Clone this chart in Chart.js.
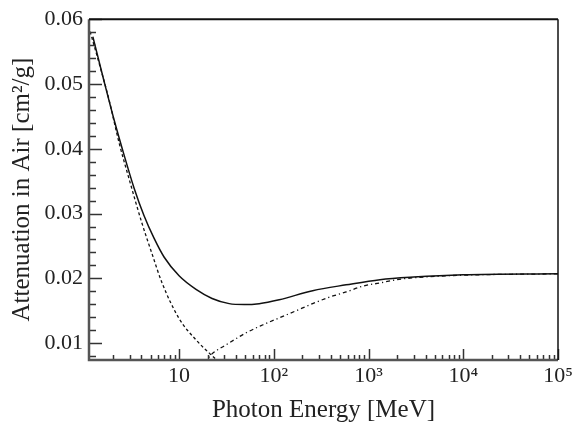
<!DOCTYPE html>
<html>
<head>
<meta charset="utf-8">
<script src="https://cdn.jsdelivr.net/npm/chart.js@4.4.1/dist/chart.umd.min.js"></script>
<style>
  body { margin: 0; background: #fff; }
  canvas { display: block; }
</style>
</head>
<body>
<canvas id="attGraph" width="582" height="430"></canvas>
<script>
// valeurs
const energyTotal = [1.23, 1.61, 2.05, 2.62, 3.34, 4.26, 5.44, 6.94, 10, 15.1, 22.3, 33.8, 48.7, 70, 114, 257, 580, 1320, 3000, 10000, 100000];
const attTotal = [0.0573, 0.0505, 0.0446, 0.0391, 0.0340, 0.0297, 0.0262, 0.0233, 0.0204, 0.0183, 0.0169, 0.0161, 0.01596, 0.0161, 0.0167, 0.0181, 0.0190, 0.0198, 0.0202, 0.02055, 0.0207];

const energyCompton = [1.11, 1.42, 1.82, 2.32, 2.96, 4.06, 5.18, 6.61, 10, 15.1, 20.7, 25.9];
const attCompton = [0.0589, 0.0534, 0.0476, 0.0410, 0.0354, 0.0285, 0.0238, 0.0193, 0.0138, 0.0105, 0.0085, 0.0072];

const energyPair = [18, 20, 22.5, 31, 40, 51, 76, 114, 172, 257, 386, 580, 871, 1320, 2000, 3000, 5000, 10000, 100000];
const attPair = [0.0071, 0.0076, 0.0084, 0.0097, 0.0107, 0.0116, 0.0128, 0.0139, 0.0150, 0.0161, 0.0171, 0.0179, 0.0188, 0.0193, 0.0198, 0.0201, 0.0203, 0.0205, 0.0207];

const xTickValues = [10, 100, 1000, 10000, 100000];
const xTickLabels = ["10", "10²", "10³", "10⁴", "10⁵"];
const yTickValues = [0.01, 0.02, 0.03, 0.04, 0.05, 0.06];
const yTickLabels = ["0.01", "0.02", "0.03", "0.04", "0.05", "0.06"];

const toPoints = (xs, ys) => xs.map((x, i) => ({ x: x, y: ys[i] }));

const serif = "'Liberation Serif', 'DejaVu Serif', serif";

// graduations vers l'intérieur + cadre
const framePlugin = {
  id: "frame",
  afterDatasetsDraw(chart) {
    const ctx = chart.ctx;
    const a = chart.chartArea;
    const xs = chart.scales.x;
    const ys = chart.scales.y;
    ctx.save();
    ctx.lineCap = "butt";

    // axe y : majeures 0.01, mineures 0.002
    ctx.strokeStyle = "#333";
    ctx.lineWidth = 1.5;
    for (let k = 4; k <= 30; k++) {
      const v = k * 0.002;
      if (v < ys.min - 1e-9 || v > ys.max + 1e-9) continue;
      const py = Math.round(ys.getPixelForValue(v)) + 0.5;
      const len = k % 5 === 0 ? 13 : 7;
      ctx.beginPath();
      ctx.moveTo(a.left, py);
      ctx.lineTo(a.left + len, py);
      ctx.stroke();
    }

    // axe x : décades et mineures
    for (let d = 0; d <= 5; d++) {
      for (let m = 1; m <= 9; m++) {
        const v = m * Math.pow(10, d);
        if (v < xs.min || v > xs.max * 1.0001) continue;
        const px = Math.round(xs.getPixelForValue(v)) + 0.5;
        const len = m === 1 ? 11 : 5;
        ctx.beginPath();
        ctx.moveTo(px, a.bottom);
        ctx.lineTo(px, a.bottom - len);
        ctx.stroke();
      }
    }

    // cadre
    ctx.strokeStyle = "#555";
    ctx.lineWidth = 2.5;
    ctx.beginPath();
    ctx.moveTo(a.left, a.top);
    ctx.lineTo(a.left, a.bottom);
    ctx.lineTo(a.right, a.bottom);
    ctx.stroke();
    ctx.strokeStyle = "#111";
    ctx.lineWidth = 2;
    ctx.beginPath();
    ctx.moveTo(a.left, a.top);
    ctx.lineTo(a.right, a.top);
    ctx.stroke();
    ctx.lineWidth = 1.5;
    ctx.beginPath();
    ctx.moveTo(a.right, a.top);
    ctx.lineTo(a.right, a.bottom);
    ctx.stroke();
    ctx.restore();
  },
};

const ctx = document.getElementById("attGraph").getContext("2d");
const attChart = new Chart(ctx, {
  type: "line",
  data: {
    datasets: [
      {
        label: "total",
        data: toPoints(energyTotal, attTotal),
        borderColor: "#111",
        borderWidth: 1.5,
      },
      {
        label: "compton",
        data: toPoints(energyCompton, attCompton),
        borderColor: "#111",
        borderWidth: 1.3,
        borderDash: [3, 2.5],
      },
      {
        label: "paires",
        data: toPoints(energyPair, attPair),
        borderColor: "#111",
        borderWidth: 1.3,
        borderDash: [4, 3, 1.2, 3],
      },
    ],
  },
  options: {
    responsive: false,
    animation: false,
    parsing: false,
    elements: {
      point: { radius: 0 },
      line: { cubicInterpolationMode: "monotone", fill: false },
    },
    layout: { padding: { left: 0, top: 16, right: 24, bottom: 0 } },
    plugins: {
      legend: { display: false },
      tooltip: { enabled: false },
    },
    scales: {
      x: {
        type: "logarithmic",
        min: 1.12,
        max: 100000,
        grid: { display: false, drawTicks: false, tickLength: 0 },
        border: { display: false },
        afterBuildTicks: (scale) => {
          scale.ticks = xTickValues.map((v) => ({ value: v }));
        },
        afterFit: (scale) => {
          scale.height = 70;
        },
        ticks: {
          autoSkip: false,
          maxRotation: 0,
          padding: 3,
          color: "#222",
          font: { family: serif, size: 22 },
          callback: (value) => {
            const i = xTickValues.indexOf(value);
            return i >= 0 ? xTickLabels[i] : "";
          },
        },
        title: {
          display: true,
          text: "Photon Energy [MeV]",
          color: "#222",
          font: { family: serif, size: 25 },
          padding: { top: 0, bottom: 5 },
        },
      },
      y: {
        type: "linear",
        min: 0.0074,
        max: 0.06,
        grid: { display: false, drawTicks: false, tickLength: 0 },
        border: { display: false },
        afterBuildTicks: (scale) => {
          scale.ticks = yTickValues.map((v) => ({ value: v }));
        },
        afterFit: (scale) => {
          scale.width = 89;
        },
        ticks: {
          padding: 6,
          color: "#222",
          font: { family: serif, size: 22 },
          callback: (value) => {
            const i = yTickValues.findIndex((v) => Math.abs(v - value) < 1e-9);
            return i >= 0 ? yTickLabels[i] : "";
          },
        },
        title: {
          display: true,
          text: "Attenuation in Air [cm²/g]",
          color: "#222",
          font: { family: serif, size: 25 },
          padding: { top: 7, bottom: 0 },
        },
      },
    },
  },
  plugins: [framePlugin],
});
</script>
</body>
</html>
